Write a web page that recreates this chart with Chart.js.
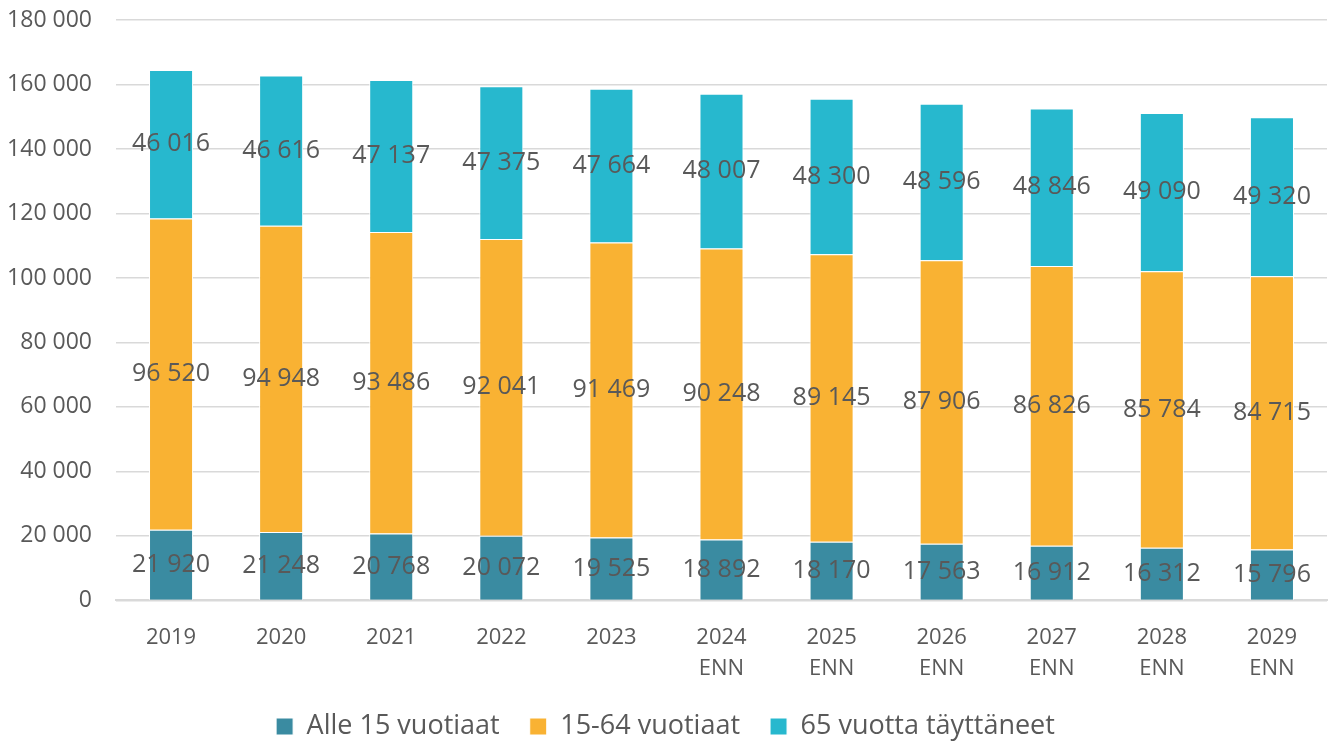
<!doctype html>
<html>
<head>
	<style>
		html, body { margin: 0; padding: 0; background: #fff; }
		#wrap { width: 1333px; height: 742px; }
	</style>
	<script src="https://cdn.jsdelivr.net/npm/chart.js@4.4.0/dist/chart.umd.min.js"></script>
</head>
<body>
	<div id="wrap"><canvas id="vaesto"></canvas></div>
	<script>
		"use strict";
		const years = [["2019"], ["2020"], ["2021"], ["2022"], ["2023"], ["2024", "ENN"], ["2025", "ENN"],
			["2026", "ENN"], ["2027", "ENN"], ["2028", "ENN"], ["2029", "ENN"]];
		const under_15 = [21920, 21248, 20768, 20072, 19525, 18892, 18170, 17563, 16912, 16312, 15796];
		const age_15_64 = [96520, 94948, 93486, 92041, 91469, 90248, 89145, 87906, 86826, 85784, 84715];
		const over_65 = [46016, 46616, 47137, 47375, 47664, 48007, 48300, 48596, 48846, 49090, 49320];

		const fmt = n => String(n).replace(/\B(?=(\d{3})+(?!\d))/g, " ");
		const FONT = "'Open Sans', 'Noto Sans', sans-serif";
		const GREY = "#595959";

		// own small label plugin, datalabels is not loaded
		const seg_labels = {
			id: "seg_labels",
			afterDatasetsDraw(chart) {
				const ctx = chart.ctx;
				ctx.save();
				ctx.font = "25px " + FONT;
				ctx.fillStyle = GREY;
				ctx.textAlign = "center";
				ctx.textBaseline = "middle";
				chart.data.datasets.forEach((ds, i) => {
					chart.getDatasetMeta(i).data.forEach((bar, j) => {
						const mid = (bar.y + bar.base) / 2;
						ctx.fillText(fmt(ds.data[j]), bar.x, mid);
					});
				});
				ctx.restore();
			}
		};

		const vaesto = document.getElementById("vaesto").getContext("2d");
		new Chart(vaesto, {
			type: "bar",
			data: {
				labels: years,
				datasets: [{
					label: "Alle 15 vuotiaat",
					data: under_15,
					backgroundColor: "#3A8BA1",
					borderColor: "#ffffff",
					borderWidth: 1
				}, {
					label: "15-64 vuotiaat",
					data: age_15_64,
					backgroundColor: "#F9B233",
					borderColor: "#ffffff",
					borderWidth: 1
				}, {
					label: "65 vuotta täyttäneet",
					data: over_65,
					backgroundColor: "#27B8CE",
					borderColor: "#ffffff",
					borderWidth: 1
				}]
			},
			options: {
				responsive: true,
				maintainAspectRatio: false,
				animation: false,
				layout: { padding: { left: 4, right: 6, top: 20, bottom: -8 } },
				datasets: { bar: { categoryPercentage: 1, barPercentage: 0.4 } },
				scales: {
					x: {
						stacked: true,
						grid: { display: false },
						border: { color: "#d9d9d9", width: 2 },
						afterFit: s => { s.height -= 15; },
						ticks: { color: GREY, font: { family: FONT, size: 22, lineHeight: 1.4 }, padding: 14 }
					},
					y: {
						stacked: true,
						min: 0,
						max: 180000,
						grid: { color: "#d9d9d9", lineWidth: 1.5, drawTicks: false },
						border: { display: false },
						afterFit: s => { s.width = 112; s.paddingTop = 0; },
						ticks: {
							stepSize: 20000,
							color: GREY,
							font: { family: FONT, size: 23 },
							padding: 24,
							callback: v => fmt(v)
						}
					}
				},
				plugins: {
					tooltip: { enabled: false },
					legend: {
						position: "bottom",
						labels: {
							color: GREY,
							font: { family: FONT, size: 27 },
							boxWidth: 17,
							boxHeight: 17,
							padding: 30,
							useBorderRadius: false
						}
					}
				}
			},
			plugins: [seg_labels]
		});
	</script>
</body>
</html>
